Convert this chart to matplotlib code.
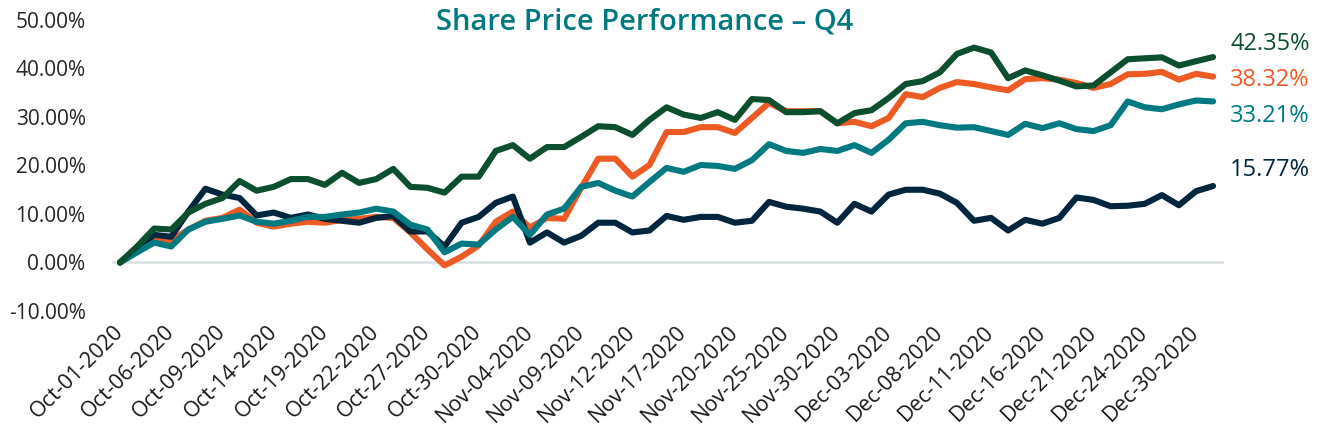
import numpy as np
import pandas as pd
import matplotlib
matplotlib.use("Agg")
import matplotlib.pyplot as plt
from matplotlib.ticker import FuncFormatter, MultipleLocator

plt.rcParams['font.family'] = ['Open Sans', 'DejaVu Sans']

# trading days of Q4 2020 (Dec 25 closed)
dates = pd.bdate_range("2020-10-01", "2020-12-31")
dates = dates[dates != pd.Timestamp("2020-12-25")]
labels = [d.strftime("%b-%d-%Y") for d in dates]

# cumulative share price change, %
green = [0, 3.3, 7.0, 6.8, 10.3, 12.1, 13.3, 16.8, 14.8, 15.6,
         17.2, 17.2, 16.0, 18.5, 16.4, 17.2, 19.3, 15.6, 15.4, 14.4,
         17.7, 17.7, 23.0, 24.2, 21.4, 23.8, 23.8, 25.9, 28.1, 27.9,
         26.3, 29.4, 32.0, 30.5, 29.8, 31.0, 29.4, 33.7, 33.5, 31.0,
         31.0, 31.2, 28.7, 30.8, 31.4, 33.9, 36.8, 37.4, 39.2, 43.0,
         44.3, 43.3, 38.0, 39.6, 38.6, 37.5, 36.3, 36.5, 39.2, 41.9,
         42.1, 42.3, 40.6, 41.5, 42.35]
orange = [0, 2.3, 5.1, 4.5, 6.8, 8.6, 9.2, 10.9, 8.2, 7.4,
          8.0, 8.4, 8.2, 8.8, 9.0, 9.4, 9.2, 6.2, 2.7, -0.6,
          1.2, 3.5, 8.4, 10.5, 7.2, 9.2, 9.0, 15.4, 21.4, 21.4,
          17.7, 20.1, 26.9, 26.9, 27.9, 27.9, 26.7, 29.8, 32.9, 31.2,
          31.2, 31.2, 28.7, 29.0, 28.1, 29.8, 34.7, 34.1, 36.0, 37.2,
          36.8, 36.1, 35.5, 37.8, 38.0, 37.7, 37.0, 36.0, 36.8, 38.8,
          38.9, 39.3, 37.7, 38.9, 38.32]
teal = [0, 2.1, 4.1, 3.3, 6.8, 8.4, 9.0, 9.7, 8.4, 8.0,
        8.6, 9.4, 9.4, 9.9, 10.3, 11.1, 10.5, 7.8, 6.8, 2.1,
        3.9, 3.7, 6.8, 9.4, 5.7, 9.9, 11.1, 15.6, 16.4, 14.8,
        13.6, 16.6, 19.5, 18.7, 20.1, 19.9, 19.3, 21.1, 24.4, 23.0,
        22.6, 23.4, 23.0, 24.2, 22.6, 25.3, 28.7, 29.0, 28.3, 27.8,
        27.9, 27.1, 26.3, 28.6, 27.7, 28.7, 27.5, 27.1, 28.3, 33.2,
        32.0, 31.6, 32.6, 33.4, 33.21]
navy = [0, 3.1, 5.7, 5.3, 10.5, 15.2, 14.0, 13.3, 9.7, 10.3,
        9.2, 9.9, 9.0, 8.6, 8.2, 9.2, 9.6, 6.4, 6.4, 3.3,
        8.2, 9.4, 12.3, 13.6, 4.1, 6.2, 4.1, 5.5, 8.2, 8.2,
        6.2, 6.6, 9.6, 8.8, 9.4, 9.4, 8.2, 8.6, 12.5, 11.5,
        11.1, 10.5, 8.2, 12.1, 10.5, 14.0, 15.0, 15.0, 14.2, 12.3,
        8.6, 9.2, 6.6, 8.8, 8.0, 9.2, 13.4, 12.9, 11.6, 11.7,
        12.1, 13.9, 11.8, 14.7, 15.77]

c_green = "#0B4F2E"
c_orange = "#EE5A24"
c_teal = "#007A80"
c_navy = "#00263E"

fig = plt.figure(figsize=(13.27, 4.48), dpi=100)
ax = fig.add_axes([0.0844, 0.3058, 0.838, 0.6496])

x = np.arange(len(labels))
ax.axhline(0, color="#DCE3E5", lw=2, zorder=1)
for series, col in [(orange, c_orange), (navy, c_navy), (teal, c_teal), (green, c_green)]:
    ax.plot(x, series, color=col, lw=4.4, solid_joinstyle="round",
            solid_capstyle="round", zorder=3)

ax.set_xlim(-0.47, 64.64)
ax.set_ylim(-10, 50)
ax.yaxis.set_major_locator(MultipleLocator(10))
ax.yaxis.set_major_formatter(FuncFormatter(lambda v, p: f"{v:.2f}%"))
ax.set_xticks(x[::3])
ax.set_xticklabels(labels[::3], rotation=45, ha="right", va="center",
                   rotation_mode="anchor", fontsize=15.5, color="#1A1A1A")
ax.tick_params(axis="x", length=0, pad=13)
ax.tick_params(axis="y", length=0, pad=19, labelsize=15, labelcolor="#262626")
for s in ax.spines.values():
    s.set_visible(False)

# end-of-period labels
end_labels = [(green, c_green, 45.0), (orange, c_orange, 37.6),
              (teal, c_teal, 30.2), (navy, c_navy, 19.1)]
for series, col, ypos in end_labels:
    ax.text(65.0, ypos, f"{series[-1]:.2f}%", color=col, fontsize=17,
            va="center", ha="left", clip_on=False)

fig.text(0.486, 0.952, "Share Price Performance \u2013 Q4", color=c_teal,
         fontsize=21, fontweight="semibold", ha="center", va="center")

fig.savefig("out.png", dpi=100)
